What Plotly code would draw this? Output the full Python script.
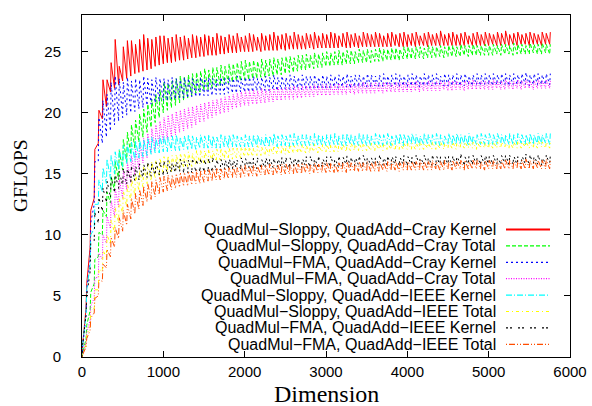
import plotly.graph_objects as go

# Tooth start dimensions (each tooth: trough at d, peak at d+8)
DIMS = list(range(0, 5800, 50))
PEAK_OFFSET = 8

LABELS = [
    "QuadMul\u2212Sloppy, QuadAdd\u2212Cray Kernel",
    "QuadMul\u2212Sloppy, QuadAdd\u2212Cray Total",
    "QuadMul\u2212FMA, QuadAdd\u2212Cray Kernel",
    "QuadMul\u2212FMA, QuadAdd\u2212Cray Total",
    "QuadMul\u2212Sloppy, QuadAdd\u2212IEEE Kernel",
    "QuadMul\u2212Sloppy, QuadAdd\u2212IEEE Total",
    "QuadMul\u2212FMA, QuadAdd\u2212IEEE Kernel",
    "QuadMul\u2212FMA, QuadAdd\u2212IEEE Total",
]

# 1: Sloppy / Cray Kernel
SC_K_LOW = [0.0, 4.0, 9.0, 13.0, 17.5, 19.5, 20.5, 21.7, 22.0, 22.3,
            22.6, 22.8, 23.0, 23.2, 23.3, 23.4, 23.5, 23.6, 23.8, 23.9,
            24.0, 24.1, 24.1, 24.2, 24.3, 24.3, 24.4, 24.5, 24.5, 24.6,
            24.6, 24.7, 24.7, 24.7, 24.8, 24.8, 24.9, 24.9, 24.9, 25.0,
            25.0, 25.0, 25.0, 25.1, 25.0, 25.1, 25.1, 25.1, 25.1, 25.2,
            25.1, 25.2, 25.2, 25.2, 25.2, 25.2, 25.3, 25.2, 25.3, 25.3,
            25.3, 25.3, 25.3, 25.3, 25.4, 25.3, 25.3, 25.4, 25.3, 25.4,
            25.4, 25.4, 25.4, 25.4, 25.4, 25.4, 25.4, 25.5, 25.4, 25.4,
            25.4, 25.5, 25.4, 25.5, 25.5, 25.4, 25.5, 25.5, 25.5, 25.5,
            25.5, 25.5, 25.5, 25.5, 25.5, 25.6, 25.5, 25.5, 25.5, 25.5,
            25.5, 25.6, 25.5, 25.5, 25.6, 25.5, 25.6, 25.5, 25.6, 25.6,
            25.5, 25.6, 25.6, 25.5, 25.6, 25.6]
SC_K_HIGH = [1.0, 6.0, 12.0, 17.0, 20.2, 22.7, 22.7, 24.1, 26.0, 23.8,
             25.4, 25.9, 25.9, 25.6, 26.0, 26.4, 26.1, 26.0, 26.2, 26.3,
             26.3, 26.1, 26.2, 26.4, 26.2, 26.3, 26.1, 26.4, 26.3, 26.2,
             26.4, 26.3, 26.2, 26.5, 26.3, 26.2, 26.4, 26.3, 26.5, 26.2,
             26.3, 26.5, 26.4, 26.2, 26.5, 26.3, 26.4, 26.6, 26.3, 26.4,
             26.5, 26.3, 26.6, 26.4, 26.3, 26.5, 26.4, 26.6, 26.3, 26.5,
             26.4, 26.6, 26.5, 26.3, 26.5, 26.6, 26.4, 26.5, 26.3, 26.6,
             26.5, 26.4, 26.6, 26.5, 26.3, 26.5, 26.6, 26.4, 26.5, 26.6,
             26.4, 26.5, 26.6, 26.3, 26.5, 26.6, 26.4, 26.5, 26.7, 26.4,
             26.5, 26.6, 26.4, 26.5, 26.6, 26.3, 26.5, 26.6, 26.4, 26.6,
             26.5, 26.4, 26.6, 26.5, 26.7, 26.4, 26.5, 26.6, 26.4, 26.5,
             26.6, 26.5, 26.4, 26.6, 26.5, 26.6]

# 2: Sloppy / Cray Total
SC_T_LOW = [0.0, 1.5, 3.8, 6.0, 8.2, 10.0, 11.5, 12.6, 13.6, 14.5,
            15.3, 16.0, 16.6, 17.1, 17.6, 18.0, 18.4, 18.8, 19.2, 19.6,
            20.0, 20.2, 20.4, 20.6, 20.8, 21.0, 21.2, 21.4, 21.6, 21.7,
            21.8, 21.9, 22.0, 22.1, 22.2, 22.3, 22.4, 22.5, 22.6, 22.6,
            22.7,
            22.7, 22.8, 22.8, 22.9, 22.9, 23.0, 23.0, 23.1, 23.1, 23.2,
            23.3, 23.3, 23.4, 23.5, 23.5, 23.6, 23.6, 23.7, 23.7, 23.8,
            23.8, 23.9, 23.9, 23.9, 24.0, 24.0, 24.0, 24.1, 24.1, 24.1,
            24.1, 24.2, 24.2, 24.2, 24.3, 24.3, 24.3, 24.3, 24.4, 24.4,
            24.4, 24.4, 24.5, 24.4, 24.5, 24.5, 24.5, 24.6, 24.5, 24.6,
            24.6, 24.6, 24.6, 24.7, 24.6, 24.7, 24.7, 24.7, 24.7, 24.7,
            24.7, 24.8, 24.7, 24.8, 24.8, 24.7, 24.8, 24.8, 24.8, 24.8,
            24.9, 24.8, 24.8, 24.9, 24.8]
SC_T_HIGH = [0.3, 2.6, 5.3, 8.0, 10.2, 12.0, 13.5, 14.8, 16.0, 16.9,
             17.8, 18.4, 19.0, 19.4, 19.9, 20.3, 20.7, 21.1, 21.5, 21.9,
             22.5, 22.4, 22.6, 22.8, 23.0, 22.9, 23.1, 23.2, 23.3, 23.4,
             23.6, 23.5, 23.7, 23.7, 23.9, 23.8, 24.0, 24.0, 24.1, 24.2,
             24.3,
             24.2, 24.3, 24.2, 24.4, 24.3, 24.4, 24.5, 24.4, 24.5, 24.6,
             24.6, 24.5, 24.7, 24.7, 24.8, 24.7, 24.9, 24.8, 24.9, 25.0,
             24.9, 25.0, 25.1, 25.0, 25.1, 25.1, 25.0, 25.2, 25.1, 25.2,
             25.1, 25.2, 25.3, 25.2, 25.2, 25.3, 25.3, 25.2, 25.4, 25.4,
             25.3, 25.4, 25.4, 25.3, 25.5, 25.4, 25.4, 25.5, 25.4, 25.5,
             25.5, 25.4, 25.6, 25.5, 25.5, 25.6, 25.5, 25.5, 25.6, 25.5,
             25.6, 25.5, 25.6, 25.6, 25.5, 25.7, 25.6, 25.6, 25.5, 25.7,
             25.6, 25.6, 25.7, 25.6, 25.6]

# 3: FMA / Cray Kernel
FC_K_LOW = [0.0, 3.5, 8.0, 12.5, 16.0, 17.5, 18.0, 18.5, 19.0, 19.3,
            19.6, 19.8, 20.0, 20.1, 20.3, 20.4, 20.6, 20.7, 20.8, 20.9,
            21.0,
            21.0, 21.1, 21.1, 21.2, 21.2, 21.2, 21.3, 21.3, 21.3, 21.4,
            21.4, 21.4, 21.5, 21.5, 21.5, 21.6, 21.6, 21.6, 21.7, 21.7,
            21.7, 21.7, 21.8, 21.8, 21.8, 21.8, 21.9, 21.8, 21.9, 21.9,
            21.9, 21.9, 22.0, 21.9, 22.0, 22.0, 22.0, 22.0, 22.0, 22.0,
            22.0, 22.1, 22.0, 22.1, 22.1, 22.0, 22.1, 22.1, 22.1, 22.1,
            22.1, 22.2, 22.1, 22.1, 22.2, 22.1, 22.2, 22.1, 22.2, 22.1,
            22.2, 22.2, 22.1, 22.2, 22.2, 22.2, 22.2, 22.3, 22.2, 22.2,
            22.2, 22.3, 22.2, 22.2, 22.3, 22.2, 22.3, 22.2, 22.3, 22.3,
            22.2, 22.3, 22.3, 22.3, 22.2, 22.3, 22.3, 22.3, 22.3, 22.2,
            22.3, 22.3, 22.3, 22.3, 22.3]
FC_K_HIGH = [0.8, 5.5, 11.0, 16.0, 19.6, 21.0, 21.5, 22.5, 23.0, 22.8,
             22.5, 22.9, 22.6, 22.8, 22.7, 23.0, 22.8, 22.7, 22.9, 22.8,
             22.8,
             22.7, 22.9, 22.8, 22.7, 22.9, 22.8, 22.8, 22.7, 22.9, 22.8,
             22.9, 22.8, 22.7, 22.9, 22.8, 22.9, 22.8, 23.0, 22.8, 22.9,
             22.9, 23.0, 22.8, 22.9, 23.0, 22.9, 23.1, 22.9, 23.0, 22.9,
             23.1, 23.0, 22.9, 23.1, 23.0, 23.0, 23.1, 22.9, 23.1, 23.0,
             23.1, 23.0, 23.1, 23.0, 23.2, 23.0, 23.1, 23.1, 23.0, 23.2,
             23.1, 23.0, 23.1, 23.2, 23.0, 23.1, 23.2, 23.1, 23.0, 23.1,
             23.2, 23.1, 23.0, 23.2, 23.1, 23.1, 23.2, 23.0, 23.2, 23.1,
             23.1, 23.2, 23.1, 23.2, 23.0, 23.1, 23.2, 23.1, 23.2, 23.1,
             23.2, 23.1, 23.2, 23.2, 23.1, 23.2, 23.1, 23.2, 23.3, 23.1,
             23.2, 23.2, 23.1, 23.2, 23.2]

# 4: FMA / Cray Total
FC_T_LOW = [0.0, 1.2, 3.0, 4.8, 6.5, 8.0, 9.3, 10.5, 11.5, 12.3,
            13.0, 13.7, 14.3, 14.9, 15.4, 15.9, 16.3, 16.7, 17.0, 17.3,
            17.6,
            17.8, 18.0, 18.2, 18.4, 18.5, 18.7, 18.8, 19.0, 19.2, 19.3,
            19.5, 19.6, 19.8, 19.9, 20.0, 20.1, 20.3, 20.4, 20.5, 20.6,
            20.6, 20.7, 20.7, 20.8, 20.8, 20.9, 20.9, 21.0, 21.0, 21.1,
            21.1, 21.1, 21.2, 21.2, 21.3, 21.3, 21.3, 21.4, 21.4, 21.4,
            21.4, 21.5, 21.5, 21.5, 21.5, 21.6, 21.5, 21.6, 21.6, 21.6,
            21.6, 21.6, 21.7, 21.6, 21.7, 21.7, 21.7, 21.7, 21.7, 21.7,
            21.7, 21.8, 21.7, 21.8, 21.8, 21.8, 21.8, 21.8, 21.9, 21.8,
            21.8, 21.9, 21.9, 21.8, 21.9, 21.9, 21.9, 21.9, 21.9, 21.9,
            21.9, 22.0, 21.9, 21.9, 22.0, 21.9, 22.0, 21.9, 22.0, 22.0,
            21.9, 22.0, 22.0, 22.0, 22.0]
FC_T_HIGH = [0.2, 2.0, 4.2, 6.5, 8.5, 10.0, 11.5, 12.8, 13.8, 14.6,
             15.3, 15.9, 16.5, 17.0, 17.5, 17.9, 18.3, 18.7, 19.0, 19.3,
             19.6,
             19.8, 19.9, 20.1, 20.2, 20.3, 20.4, 20.5, 20.6, 20.7, 20.8,
             20.9, 21.0, 21.1, 21.2, 21.3, 21.4, 21.5, 21.6, 21.7, 21.8,
             21.8, 21.9, 21.8, 22.0, 21.9, 22.0, 22.0, 22.1, 22.0, 22.1,
             22.1, 22.2, 22.1, 22.2, 22.2, 22.2, 22.3, 22.2, 22.3, 22.3,
             22.3, 22.3, 22.4, 22.3, 22.4, 22.4, 22.3, 22.4, 22.5, 22.4,
             22.4, 22.5, 22.4, 22.5, 22.5, 22.4, 22.5, 22.5, 22.5, 22.5,
             22.5, 22.6, 22.5, 22.5, 22.6, 22.5, 22.6, 22.6, 22.5, 22.6,
             22.6, 22.6, 22.5, 22.6, 22.6, 22.7, 22.6, 22.6, 22.6, 22.6,
             22.7, 22.6, 22.6, 22.7, 22.6, 22.6, 22.7, 22.6, 22.7, 22.6,
             22.6, 22.7, 22.6, 22.7, 22.6]

# 5: Sloppy / IEEE Kernel
SI_K_LOW = [0.0, 3.5, 7.5, 10.5, 12.5, 13.5, 14.2, 14.6, 15.0, 15.3,
            15.6, 15.8, 16.0, 16.1, 16.3, 16.4, 16.5, 16.6, 16.7, 16.7,
            16.8,
            16.8, 16.9, 16.9, 16.9, 17.0, 17.0, 17.0, 17.0, 17.1, 17.1,
            17.1, 17.1, 17.1, 17.1, 17.2, 17.1, 17.2, 17.2, 17.2, 17.2,
            17.2, 17.2, 17.2, 17.3, 17.2, 17.2, 17.3, 17.2, 17.3, 17.3,
            17.2, 17.3, 17.3, 17.3, 17.3, 17.3, 17.3, 17.3, 17.3, 17.3,
            17.3, 17.4, 17.3, 17.3, 17.3, 17.4, 17.3, 17.3, 17.4, 17.3,
            17.3, 17.4, 17.4, 17.3, 17.4, 17.3, 17.4, 17.4, 17.3, 17.4,
            17.4, 17.4, 17.3, 17.4, 17.4, 17.4, 17.4, 17.3, 17.4, 17.4,
            17.4, 17.4, 17.4, 17.4, 17.3, 17.4, 17.4, 17.4, 17.4, 17.4,
            17.4, 17.4, 17.5, 17.4, 17.4, 17.4, 17.4, 17.5, 17.4, 17.4,
            17.4, 17.4, 17.4, 17.5, 17.4]
SI_K_HIGH = [1.0, 5.5, 10.0, 12.5, 14.5, 15.5, 16.2, 16.5, 16.8, 17.0,
             17.3, 17.4, 17.6, 17.7, 17.8, 17.8, 17.9, 18.0, 17.9, 18.1,
             18.1,
             18.0, 18.1, 18.2, 18.0, 18.1, 18.2, 18.1, 18.0, 18.2, 18.1,
             18.2, 18.1, 18.0, 18.2, 18.1, 18.2, 18.2, 18.1, 18.0, 18.2,
             18.1, 18.2, 18.2, 18.0, 18.2, 18.1, 18.3, 18.1, 18.2, 18.1,
             18.2, 18.3, 18.1, 18.2, 18.2, 18.1, 18.3, 18.2, 18.1, 18.2,
             18.2, 18.3, 18.1, 18.2, 18.3, 18.2, 18.1, 18.3, 18.2, 18.2,
             18.1, 18.3, 18.2, 18.2, 18.3, 18.1, 18.2, 18.3, 18.2, 18.2,
             18.3, 18.2, 18.1, 18.3, 18.2, 18.2, 18.3, 18.2, 18.1, 18.3,
             18.2, 18.3, 18.2, 18.2, 18.3, 18.1, 18.2, 18.3, 18.2, 18.3,
             18.2, 18.3, 18.2, 18.2, 18.3, 18.2, 18.3, 18.2, 18.2, 18.3,
             18.2, 18.3, 18.2, 18.3, 18.3]

# 6: Sloppy / IEEE Total
SI_T_LOW = [0.0, 1.0, 2.5, 4.0, 5.5, 7.0, 8.2, 9.2, 10.2, 11.0,
            11.7, 12.3, 12.8, 13.2, 13.6, 13.9, 14.2, 14.4, 14.6, 14.8,
            15.0,
            15.1, 15.2, 15.3, 15.4, 15.5, 15.6, 15.6, 15.7, 15.8, 15.8,
            15.9, 16.0, 16.0, 16.1, 16.1, 16.2, 16.2, 16.3, 16.3, 16.4,
            16.4, 16.4, 16.5, 16.5, 16.5, 16.5, 16.6, 16.6, 16.6, 16.6,
            16.6, 16.7, 16.7, 16.7, 16.7, 16.7, 16.8, 16.7, 16.8, 16.8,
            16.8, 16.8, 16.8, 16.9, 16.8, 16.9, 16.9, 16.9, 16.9, 16.9,
            16.9, 16.9, 17.0, 16.9, 17.0, 17.0, 16.9, 17.0, 17.0, 17.0,
            17.0, 17.0, 17.0, 17.0, 17.1, 17.0, 17.0, 17.1, 17.0, 17.1,
            17.1, 17.0, 17.1, 17.1, 17.1, 17.1, 17.0, 17.1, 17.1, 17.1,
            17.1, 17.1, 17.1, 17.2, 17.1, 17.1, 17.1, 17.1, 17.2, 17.1,
            17.1, 17.1, 17.2, 17.1, 17.1]
SI_T_HIGH = [0.2, 1.8, 3.7, 5.5, 7.2, 8.7, 10.0, 11.2, 12.2, 13.0,
             13.6, 14.2, 14.6, 15.0, 15.3, 15.6, 15.8, 16.0, 16.1, 16.3,
             16.4,
             16.5, 16.5, 16.6, 16.7, 16.7, 16.8, 16.7, 16.9, 16.9, 16.9,
             17.0, 16.9, 17.0, 17.1, 17.0, 17.1, 17.1, 17.1, 17.2, 17.2,
             17.2, 17.1, 17.3, 17.2, 17.2, 17.3, 17.3, 17.2, 17.3, 17.3,
             17.4, 17.3, 17.3, 17.4, 17.3, 17.4, 17.4, 17.3, 17.4, 17.4,
             17.4, 17.4, 17.5, 17.4, 17.4, 17.5, 17.4, 17.5, 17.5, 17.4,
             17.5, 17.5, 17.4, 17.5, 17.5, 17.5, 17.4, 17.5, 17.5, 17.5,
             17.5, 17.5, 17.6, 17.5, 17.5, 17.6, 17.5, 17.6, 17.5, 17.6,
             17.6, 17.5, 17.6, 17.6, 17.5, 17.6, 17.6, 17.6, 17.5, 17.6,
             17.6, 17.6, 17.6, 17.5, 17.6, 17.6, 17.7, 17.6, 17.6, 17.6,
             17.6, 17.7, 17.6, 17.6, 17.6]

# 7: FMA / IEEE Kernel
FI_K_LOW = [0.0, 3.5, 7.0, 9.5, 11.0, 12.0, 12.7, 13.1, 13.5, 13.8,
            14.0, 14.2, 14.3, 14.4, 14.5, 14.6, 14.7, 14.8, 14.8, 14.9,
            14.9,
            15.0, 15.0, 15.0, 15.1, 15.1, 15.1, 15.1, 15.2, 15.2, 15.2,
            15.2, 15.2, 15.3, 15.3, 15.3, 15.3, 15.3, 15.4, 15.4, 15.4,
            15.4, 15.4, 15.4, 15.5, 15.4, 15.5, 15.5, 15.5, 15.5, 15.5,
            15.5, 15.5, 15.6, 15.5, 15.6, 15.6, 15.6, 15.6, 15.6, 15.6,
            15.6, 15.6, 15.6, 15.6, 15.7, 15.6, 15.6, 15.7, 15.6, 15.7,
            15.7, 15.6, 15.7, 15.7, 15.7, 15.7, 15.7, 15.7, 15.7, 15.7,
            15.7, 15.7, 15.7, 15.8, 15.7, 15.7, 15.7, 15.7, 15.8, 15.7,
            15.7, 15.7, 15.8, 15.7, 15.7, 15.8, 15.7, 15.8, 15.7, 15.7,
            15.8, 15.7, 15.8, 15.8, 15.7, 15.8, 15.7, 15.8, 15.8, 15.7,
            15.8, 15.8, 15.7, 15.8, 15.8]
FI_K_HIGH = [1.0, 5.0, 9.5, 11.8, 13.0, 13.8, 14.4, 14.7, 15.0, 15.2,
             15.4, 15.5, 15.6, 15.7, 15.8, 15.8, 15.9, 15.9, 16.0, 15.9,
             16.0,
             16.1, 16.0, 16.1, 16.2, 16.0, 16.1, 16.2, 16.1, 16.2, 16.1,
             16.2, 16.3, 16.1, 16.2, 16.2, 16.3, 16.2, 16.1, 16.3, 16.3,
             16.2, 16.3, 16.3, 16.2, 16.4, 16.3, 16.2, 16.3, 16.4, 16.3,
             16.3, 16.4, 16.2, 16.3, 16.4, 16.4, 16.3, 16.4, 16.3, 16.4,
             16.4, 16.3, 16.4, 16.4, 16.5, 16.3, 16.4, 16.4, 16.5, 16.4,
             16.3, 16.4, 16.5, 16.4, 16.4, 16.5, 16.4, 16.4, 16.5, 16.4,
             16.4, 16.5, 16.4, 16.5, 16.4, 16.5, 16.5, 16.4, 16.5, 16.5,
             16.4, 16.5, 16.6, 16.4, 16.5, 16.5, 16.4, 16.5, 16.6, 16.5,
             16.5, 16.4, 16.5, 16.6, 16.5, 16.5, 16.4, 16.5, 16.6, 16.5,
             16.5, 16.5, 16.4, 16.5, 16.5]

# 8: FMA / IEEE Total
FI_T_LOW = [0.0, 0.8, 2.2, 3.6, 5.0, 6.2, 7.3, 8.2, 9.0, 9.7,
            10.3, 10.8, 11.3, 11.7, 12.1, 12.4, 12.7, 12.9, 13.1, 13.3,
            13.5,
            13.6, 13.7, 13.8, 13.9, 14.0, 14.0, 14.1, 14.2, 14.2, 14.3,
            14.4, 14.4, 14.5, 14.5, 14.6, 14.6, 14.7, 14.7, 14.7, 14.8,
            14.8, 14.8, 14.8, 14.9, 14.9, 14.9, 14.9, 15.0, 14.9, 15.0,
            15.0, 15.0, 15.0, 15.0, 15.1, 15.0, 15.1, 15.1, 15.1, 15.1,
            15.1, 15.1, 15.1, 15.2, 15.1, 15.2, 15.2, 15.2, 15.2, 15.2,
            15.2, 15.2, 15.2, 15.3, 15.2, 15.3, 15.3, 15.2, 15.3, 15.3,
            15.3, 15.3, 15.3, 15.3, 15.3, 15.3, 15.4, 15.3, 15.3, 15.4,
            15.3, 15.4, 15.4, 15.3, 15.4, 15.4, 15.4, 15.4, 15.3, 15.4,
            15.4, 15.4, 15.4, 15.4, 15.4, 15.4, 15.5, 15.4, 15.4, 15.4,
            15.4, 15.5, 15.4, 15.4, 15.4]
FI_T_HIGH = [0.2, 1.5, 3.2, 4.8, 6.3, 7.6, 8.8, 9.8, 10.6, 11.4,
             12.0, 12.5, 13.0, 13.4, 13.7, 14.0, 14.2, 14.4, 14.5, 14.7,
             14.8,
             14.9, 14.9, 15.0, 15.1, 15.1, 15.2, 15.2, 15.3, 15.3, 15.3,
             15.4, 15.4, 15.5, 15.4, 15.5, 15.5, 15.6, 15.5, 15.6, 15.7,
             15.6, 15.7, 15.6, 15.7, 15.7, 15.8, 15.7, 15.7, 15.8, 15.8,
             15.7, 15.8, 15.8, 15.9, 15.8, 15.8, 15.9, 15.8, 15.9, 15.9,
             15.9, 15.8, 15.9, 15.9, 16.0, 15.9, 15.9, 16.0, 15.9, 16.0,
             15.9, 16.0, 16.0, 15.9, 16.0, 16.0, 16.0, 15.9, 16.0, 16.0,
             16.0, 16.0, 16.1, 16.0, 16.0, 16.1, 16.0, 16.0, 16.1, 16.0,
             16.1, 16.0, 16.1, 16.1, 16.0, 16.1, 16.1, 16.0, 16.1, 16.1,
             16.1, 16.0, 16.1, 16.1, 16.1, 16.0, 16.1, 16.1, 16.2, 16.1,
             16.1, 16.1, 16.1, 16.2, 16.1]

SERIES = [
    (SC_K_LOW, SC_K_HIGH), (SC_T_LOW, SC_T_HIGH),
    (FC_K_LOW, FC_K_HIGH), (FC_T_LOW, FC_T_HIGH),
    (SI_K_LOW, SI_K_HIGH), (SI_T_LOW, SI_T_HIGH),
    (FI_K_LOW, FI_K_HIGH), (FI_T_LOW, FI_T_HIGH),
]

COLORS = ["#ff0000", "#00ff00", "#0000ff", "#ff00ff",
          "#00ffff", "#ffff00", "#000000", "#ff4d00"]
DASHES = ["solid", "4px,2px", "2px,3px", "1px,1.5px",
          "6px,2px,1px,2px", "3px,3px,1px,3px", "2px,2px,2px,6px",
          "1px,2px,6px,2px,1px,2px"]

fig = go.Figure()
for (low, high), color, dash, name in zip(SERIES, COLORS, DASHES, LABELS):
    xs, ys = [], []
    for d, lo, hi in zip(DIMS, low, high):
        xs += [d, d + PEAK_OFFSET]
        ys += [lo, hi]
    fig.add_trace(go.Scatter(x=xs, y=ys, mode="lines", name=name,
                             line=dict(color=color, width=1, dash=dash),
                             showlegend=False))

# gnuplot-style key: text on the left, sample line on the right
x0_px, x1_px = 82, 570
y0_px, y1_px = 357, 15
def px_x(p):
    return (p - x0_px) / (x1_px - x0_px)
def px_y(p):
    return (y0_px - p) / (y0_px - y1_px)

row0, row_step = 229.5, 16.4
shapes, annotations = [], []
for i, (name, color, dash) in enumerate(zip(LABELS, COLORS, DASHES)):
    yy = px_y(row0 + i * row_step)
    annotations.append(dict(x=px_x(497), y=yy, xref="paper", yref="paper",
                            text=name, showarrow=False, xanchor="right",
                            yanchor="middle", borderpad=0,
                            font=dict(family="Liberation Sans", size=16,
                                      color="black")))
    line_style = dict(color=color, width=2 if i == 0 else 1.2)
    if dash != "solid":
        line_style["dash"] = dash
    shapes.append(dict(type="line", xref="paper", yref="paper", layer="above",
                       x0=px_x(506), x1=px_x(550), y0=yy, y1=yy,
                       line=line_style))

annotations.append(dict(x=px_x(21), y=px_y(176), xref="paper", yref="paper",
                        text="GFLOPS", showarrow=False, textangle=-90,
                        xanchor="center", yanchor="middle",
                        font=dict(family="Liberation Serif", size=19.5,
                                  color="black")))
annotations.append(dict(x=px_x(326), y=px_y(394), xref="paper", yref="paper",
                        text="Dimension", showarrow=False,
                        xanchor="center", yanchor="middle",
                        font=dict(family="Liberation Serif", size=24,
                                  color="black")))

axis_common = dict(showline=True, linecolor="black", linewidth=1,
                   mirror="allticks", ticks="inside", ticklen=6,
                   tickcolor="black", tickwidth=1, showgrid=False,
                   zeroline=False, automargin=False,
                   tickfont=dict(family="Liberation Sans", size=15,
                                 color="black"))

fig.update_layout(
    width=592, height=406, autosize=False,
    margin=dict(l=82, r=22, t=15, b=49, autoexpand=False),
    plot_bgcolor="white", paper_bgcolor="white",
    shapes=shapes, annotations=annotations,
    xaxis=dict(range=[0, 6000], tickvals=[0, 1000, 2000, 3000, 4000, 5000, 6000],
               ticklabelstandoff=1, **axis_common),
    yaxis=dict(range=[0, 28], tickvals=[0, 5, 10, 15, 20, 25],
               ticklabelstandoff=17, **axis_common),
)

fig.write_html("out.html",
               config={"displayModeBar": False},
               post_script="document.body.style.margin='0px';"
                           "document.documentElement.style.overflow='hidden';")
